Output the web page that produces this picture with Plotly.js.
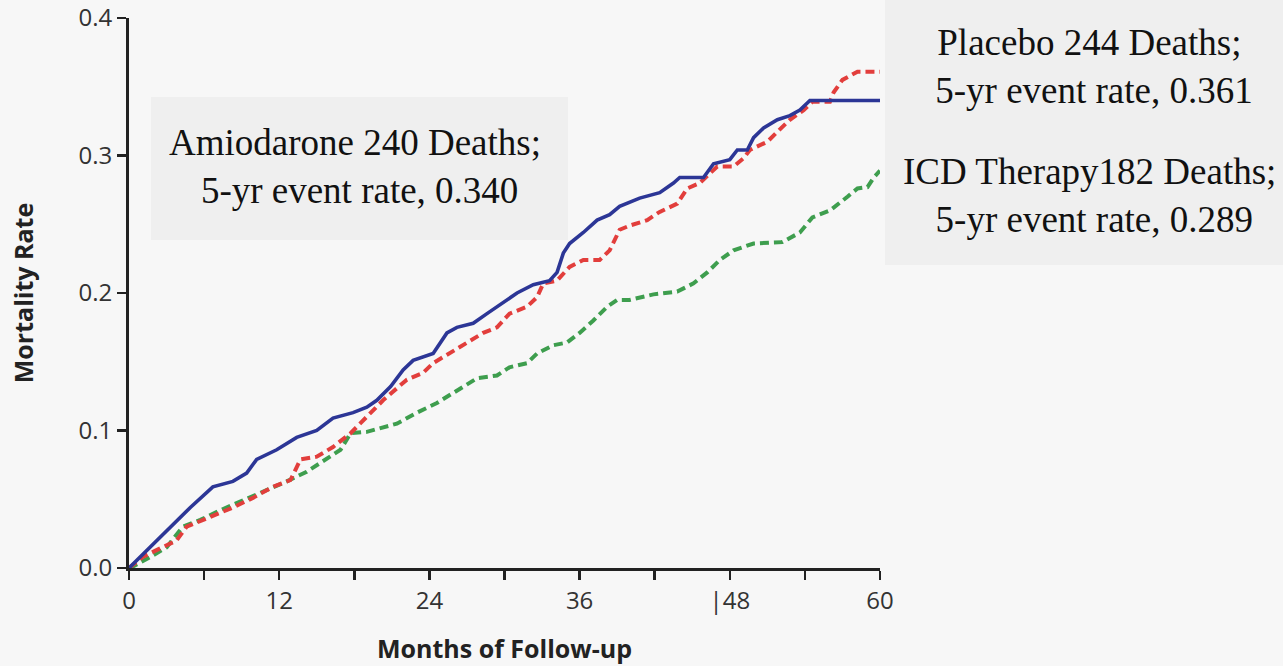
<!DOCTYPE html>
<html>
<head>
<meta charset="utf-8">
<script src="https://cdn.plot.ly/plotly-3.0.1.min.js"></script>
<style>
html,body{margin:0;padding:0;background:#f7f7f7;}
#chart{width:1283px;height:666px;}
</style>
</head>
<body>
<div id="chart"></div>
<script>
// Amiodarone (months, cumulative mortality)
const amioMonths = [0, 1.7, 3.3, 4.9, 6.7, 8.3, 9.4, 10.2, 11.8, 13.4, 15.0, 16.3, 17.9, 19.0, 19.8, 20.9, 21.9, 22.7, 24.3, 25.4, 26.2, 27.5, 28.6, 29.9, 31.0, 32.3, 33.6, 34.2, 34.7, 35.2, 36.3, 37.4, 38.4, 39.2, 40.8, 42.4, 43.5, 44.0, 45.9, 46.7, 48.0, 48.6, 49.4, 49.9, 50.7, 51.8, 52.8, 53.6, 54.4, 60];
const amioRate   = [0, 0.015, 0.030, 0.044, 0.059, 0.063, 0.069, 0.079, 0.086, 0.095, 0.100, 0.109, 0.113, 0.117, 0.122, 0.132, 0.144, 0.151, 0.156, 0.171, 0.175, 0.178, 0.185, 0.193, 0.200, 0.206, 0.209, 0.215, 0.229, 0.236, 0.244, 0.253, 0.257, 0.263, 0.269, 0.273, 0.280, 0.284, 0.284, 0.294, 0.297, 0.304, 0.304, 0.313, 0.320, 0.326, 0.329, 0.333, 0.340, 0.340];

// Placebo
const placMonths = [0, 1.1, 2.2, 3.8, 4.6, 6.5, 8.3, 9.9, 11.5, 12.9, 13.7, 15.0, 16.3, 17.7, 19.0, 20.3, 22.2, 23.5, 24.3, 25.6, 27.0, 28.3, 29.4, 30.4, 31.8, 32.6, 33.1, 34.2, 35.2, 36.3, 37.6, 38.4, 39.2, 40.0, 41.4, 42.4, 43.8, 44.6, 45.6, 46.4, 47.0, 48.3, 49.1, 49.6, 51.0, 52.0, 52.8, 53.9, 54.6, 56.0, 56.3, 57.0, 58.2, 60];
const placRate   = [0, 0.008, 0.013, 0.020, 0.030, 0.037, 0.044, 0.051, 0.059, 0.064, 0.079, 0.081, 0.088, 0.098, 0.110, 0.122, 0.137, 0.142, 0.149, 0.156, 0.164, 0.171, 0.175, 0.185, 0.190, 0.197, 0.207, 0.209, 0.219, 0.224, 0.224, 0.231, 0.246, 0.249, 0.253, 0.259, 0.265, 0.276, 0.280, 0.287, 0.292, 0.292, 0.298, 0.304, 0.310, 0.319, 0.326, 0.333, 0.339, 0.339, 0.346, 0.355, 0.361, 0.361];

// ICD Therapy
const icdMonths = [0, 0.3, 1.7, 3.0, 4.3, 5.7, 7.3, 9.1, 11.0, 12.6, 14.2, 15.8, 16.9, 17.7, 19.0, 21.4, 23.0, 24.6, 26.2, 27.8, 29.4, 30.4, 31.8, 32.6, 33.9, 35.0, 36.0, 37.1, 38.2, 39.0, 40.0, 41.9, 43.8, 45.1, 46.2, 47.2, 48.3, 49.9, 52.2, 53.6, 54.6, 56.0, 57.4, 58.2, 59.0, 59.5, 60];
const icdRate   = [0, 0.001, 0.008, 0.015, 0.030, 0.035, 0.042, 0.049, 0.057, 0.063, 0.070, 0.079, 0.086, 0.098, 0.099, 0.105, 0.113, 0.120, 0.129, 0.138, 0.140, 0.146, 0.149, 0.156, 0.162, 0.164, 0.171, 0.180, 0.190, 0.195, 0.195, 0.199, 0.201, 0.207, 0.215, 0.224, 0.231, 0.236, 0.237, 0.244, 0.255, 0.260, 0.270, 0.276, 0.277, 0.284, 0.289];

const xTickVals = [0, 6, 12, 18, 24, 30, 36, 42, 48, 54, 60];
const xTickText = ['0', '', '12', '', '24', '', '36', '', '|48', '', '60'];
const yTickVals = [0, 0.1, 0.2, 0.3, 0.4];
const yTickText = ['0.0', '0.1', '0.2', '0.3', '0.4'];

const amioLabel = 'Amiodarone 240 Deaths;<br> 5-yr event rate, 0.340';
const placLabel = 'Placebo 244 Deaths;<br> 5-yr event rate, 0.361';
const icdLabel  = 'ICD Therapy182 Deaths;<br> 5-yr event rate, 0.289';

const traces = [
  {x: icdMonths, y: icdRate, mode: 'lines', name: 'ICD Therapy',
   line: {color: 'rgb(62,158,78)', width: 4, shape: 'linear', dash: '9px,5px'}},
  {x: placMonths, y: placRate, mode: 'lines', name: 'Placebo',
   line: {color: 'rgb(226,62,60)', width: 4, shape: 'linear', dash: '9px,5px'}},
  {x: amioMonths, y: amioRate, mode: 'lines', name: 'Amiodarone',
   line: {color: 'rgb(44,54,150)', width: 3.6, shape: 'linear'}}
];

const tickFont = {family: 'Open Sans, sans-serif', size: 24, color: '#333'};
const annFont = {family: 'Liberation Serif, Times New Roman, serif', size: 37, color: '#111'};

const layout = {
  width: 1283, height: 666,
  paper_bgcolor: '#f7f7f7', plot_bgcolor: '#f7f7f7',
  margin: {l: 129, r: 403, t: 18, b: 98},
  showlegend: false,
  xaxis: {
    range: [0, 60], tickvals: xTickVals, ticktext: xTickText,
    ticks: 'outside', ticklen: 9, tickwidth: 2.5, tickcolor: '#222',
    showline: true, linewidth: 3, linecolor: '#222',
    showgrid: false, zeroline: false, tickfont: tickFont,
    title: {text: 'Months of Follow-up', font: {family: 'Open Sans, sans-serif', size: 25, color: '#222', weight: 'bold'}, standoff: 26}
  },
  yaxis: {
    range: [0, 0.4], tickvals: yTickVals, ticktext: yTickText,
    ticks: 'outside', ticklen: 9, tickwidth: 2.5, tickcolor: '#222',
    showline: true, linewidth: 3, linecolor: '#222',
    showgrid: false, zeroline: false, tickfont: tickFont,
    title: {text: 'Mortality Rate', font: {family: 'Open Sans, sans-serif', size: 25, color: '#222', weight: 'bold'}, standoff: 38}
  },
  shapes: [
    {type: 'rect', xref: 'paper', yref: 'paper', x0: 0.0293, x1: 0.5846, y0: 0.5964, y1: 0.8564,
     fillcolor: '#efefef', line: {width: 0}, layer: 'below'},
    {type: 'rect', xref: 'paper', yref: 'paper', x0: 1.0067, x1: 1.5366, y0: 0.5509, y1: 1.04,
     fillcolor: '#efefef', line: {width: 0}, layer: 'below'}
  ],
  annotations: [
    {xref: 'paper', yref: 'paper', x: 0.301, y: 0.73, text: amioLabel, showarrow: false,
     font: annFont, align: 'center', xanchor: 'center', yanchor: 'middle'},
    {xref: 'paper', yref: 'paper', x: 1.2796, y: 0.912, text: placLabel, showarrow: false,
     font: annFont, align: 'center', xanchor: 'center', yanchor: 'middle'},
    {xref: 'paper', yref: 'paper', x: 1.2796, y: 0.677, text: icdLabel, showarrow: false,
     font: annFont, align: 'center', xanchor: 'center', yanchor: 'middle'}
  ]
};

Plotly.newPlot('chart', traces, layout, {displayModeBar: false, staticPlot: true});
</script>
</body>
</html>
